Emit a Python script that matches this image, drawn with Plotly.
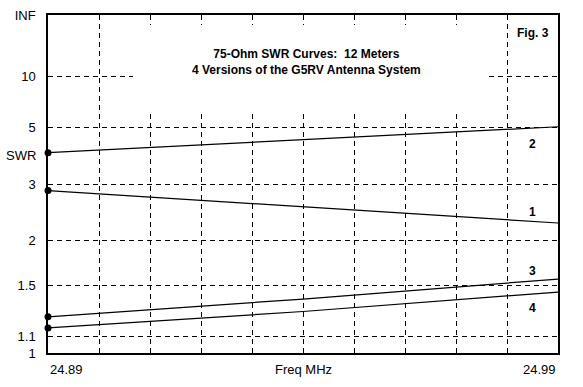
import plotly.graph_objects as go

freq = [24.89, 24.94, 24.99]
swr1 = [2.85, 2.53, 2.25]
swr2 = [3.91, 4.41, 5.05]
swr3 = [1.24, 1.38, 1.56]
swr4 = [1.16, 1.28, 1.44]
curve_names = ["1", "2", "3", "4"]
label_swr = [2.44, 4.25, 1.64, 1.31]

ytick_swr = [1, 1.1, 1.5, 2, 3, 5, 10]
ytick_text = ["1", "1.1", "1.5", "2", "3", "5", "10"]

def rho(s):
    return (s - 1.0) / (s + 1.0)

fig = go.Figure()
series = [swr1, swr2, swr3, swr4]
for name, s in zip(curve_names, series):
    fig.add_trace(go.Scatter(x=freq, y=[rho(v) for v in s], mode="lines",
                             line=dict(color="black", width=1.2), showlegend=False,
                             hoverinfo="skip"))
fig.add_trace(go.Scatter(x=[freq[0]] * 4, y=[rho(s[0]) for s in series], mode="markers",
                         marker=dict(color="black", size=7), showlegend=False,
                         cliponaxis=False, hoverinfo="skip"))

tickvals = [rho(v) for v in ytick_swr] + [1.0]
ticktext = ytick_text + ["INF"]

fnt = dict(family="Liberation Sans, Arial, sans-serif", size=13, color="black")
fig.update_layout(
    width=583, height=387,
    margin=dict(l=48, r=25, t=15, b=34, autoexpand=False),
    paper_bgcolor="white", plot_bgcolor="white",
    font=fnt,
    xaxis=dict(range=[24.89, 24.99], dtick=0.01, tick0=24.89, showticklabels=False,
               showgrid=True, gridcolor="black", gridwidth=1, griddash="5px,4px",
               showline=True, linecolor="black", linewidth=1.5, mirror=True,
               zeroline=False, ticks="", automargin=False),
    yaxis=dict(range=[0, 1], tickvals=tickvals, ticktext=ticktext,
               showgrid=True, gridcolor="black", gridwidth=1, griddash="5px,4px",
               showline=True, linecolor="black", linewidth=1.5, mirror=True,
               zeroline=False, ticks="", ticklabelstandoff=8, tickfont=fnt,
               automargin=False),
)

# white box behind the title (hides gridlines)
fig.add_shape(type="rect", xref="paper", yref="paper",
              x0=(133 - 48) / 510, x1=(488 - 48) / 510,
              y0=(353 - 110) / 338, y1=(353 - 25) / 338,
              fillcolor="white", line=dict(width=0), layer="above")

bold = dict(family="Liberation Sans, Arial, sans-serif", size=12, color="black")
fig.add_annotation(xref="paper", yref="paper", x=(306 - 48) / 510, y=(353 - 62) / 338,
                   xanchor="center", yanchor="middle",
                   text="<b>75-Ohm SWR Curves:  12 Meters</b><br><b>4 Versions of the G5RV Antenna System</b>",
                   showarrow=False, font=bold, align="center")
fig.add_annotation(xref="paper", yref="paper", x=(533 - 48) / 510, y=(353 - 33) / 338,
                   xanchor="center", yanchor="middle",
                   text="<b>Fig. 3</b>", showarrow=False, font=bold)
for name, ls in zip(curve_names, label_swr):
    fig.add_annotation(x=24.985, y=rho(ls), text="<b>" + name + "</b>", showarrow=False,
                       font=bold, xanchor="center", yanchor="middle")

fig.add_annotation(xref="paper", yref="paper", x=(4 - 48) / 510, y=(353 - 155) / 338,
                   text="SWR", showarrow=False, font=fnt, xanchor="left", yanchor="middle")
fig.add_annotation(xref="paper", yref="paper", x=0, y=-0.02, yanchor="top", xanchor="left",
                   text="24.89", showarrow=False, font=fnt)
fig.add_annotation(xref="paper", yref="paper", x=1, y=-0.02, yanchor="top", xanchor="right",
                   text="24.99", showarrow=False, font=fnt)
fig.add_annotation(xref="paper", yref="paper", x=0.5, y=-0.02, yanchor="top", xanchor="center",
                   text="Freq MHz", showarrow=False, font=fnt)

fig.write_html("out.html", config={"displayModeBar": False},
               post_script="document.body.style.margin='0';document.body.style.overflow='hidden';")
